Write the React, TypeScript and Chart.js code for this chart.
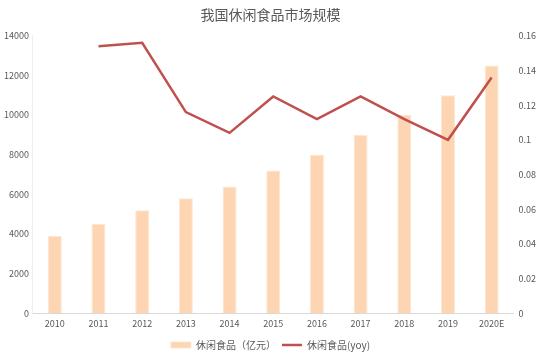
import React, { useEffect, useRef } from "react";
import { Chart, registerables } from "chart.js";

Chart.register(...registerables);

const categories = ["2010", "2011", "2012", "2013", "2014", "2015", "2016", "2017", "2018", "2019", "2020E"];
const marketSize = [3900, 4500, 5200, 5800, 6400, 7200, 8000, 9000, 10000, 11000, 12500];
const yoy = [null, 0.154, 0.156, 0.116, 0.104, 0.125, 0.112, 0.125, 0.112, 0.1, 0.136];
const title = "我国休闲食品市场规模";
const barLabel = "休闲食品（亿元）";
const lineLabel = "休闲食品(yoy)";

export default function App() {
  const ref = useRef<HTMLCanvasElement>(null);
  useEffect(() => {
    const font = "'Noto Sans CJK SC', 'Noto Sans', sans-serif";
    const chart = new Chart(ref.current!, {
      data: {
        labels: categories,
        datasets: [
          {
            type: "line",
            label: lineLabel,
            data: yoy as any,
            yAxisID: "y1",
            borderColor: "#C0504D",
            backgroundColor: "#C0504D",
            borderWidth: 2.5,
            pointRadius: 0,
            pointStyle: "line",
            tension: 0,
            spanGaps: false,
            order: 0,
          },
          {
            type: "bar",
            label: barLabel,
            data: marketSize,
            yAxisID: "y",
            backgroundColor: "#FDD5B2",
            borderColor: "#FEE6D2",
            borderWidth: 1,
            pointStyle: "rect",
            categoryPercentage: 1,
            barPercentage: 0.32,
            order: 1,
          },
        ],
      },
      options: {
        animation: false,
        responsive: false,
        layout: { padding: { left: 0, right: 0, top: 0, bottom: -2 } },
        plugins: {
          title: {
            display: true,
            text: title,
            color: "#595959",
            font: { family: font, size: 14, weight: "normal" },
            padding: { top: 6, bottom: 13 },
          },
          legend: {
            position: "bottom",
            reverse: true,
            labels: {
              usePointStyle: true,
              pointStyleWidth: 20,
              boxWidth: 20,
              boxHeight: 6,
              color: "#595959",
              font: { family: font, size: 10 },
              padding: 6,
            },
          },
          tooltip: { enabled: false },
        },
        scales: {
          x: {
            grid: { display: false, drawTicks: false },
            border: { display: true, color: "#D9D9D9" },
            ticks: { color: "#595959", font: { family: font, size: 9 }, maxRotation: 0, padding: 5 },
          },
          y: {
            position: "left",
            min: 0,
            max: 14000,
            grid: { display: false, drawTicks: false },
            border: { display: true, color: "#F2EEE4" },
            ticks: {
              stepSize: 2000,
              color: "#595959",
              font: { family: font, size: 9 },
              padding: 4,
              callback: (v: any) => String(v),
            },
          },
          y1: {
            position: "right",
            min: 0,
            max: 0.16,
            grid: { display: false, drawTicks: false },
            border: { display: false },
            ticks: {
              stepSize: 0.02,
              color: "#595959",
              font: { family: font, size: 9 },
              padding: 5,
              callback: (v: any) => String(Math.round(Number(v) * 100) / 100),
            },
          },
        },
      },
    } as any);
    return () => chart.destroy();
  }, []);
  return (
    <div style={{ position: "absolute", left: 0, top: 0, width: 541, height: 358, background: "#fff" }}>
      <canvas ref={ref} width={541} height={358} />
    </div>
  );
}
